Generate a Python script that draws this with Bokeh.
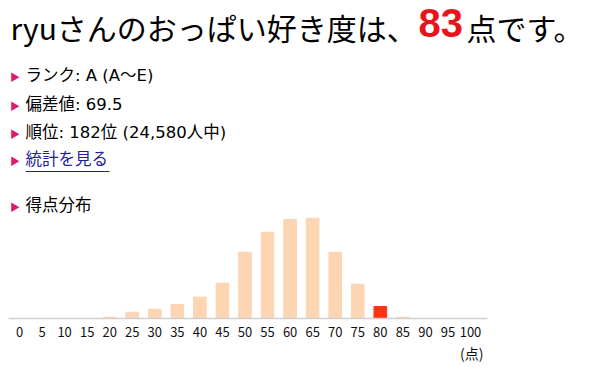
from bokeh.plotting import figure
from bokeh.models import Label, BoxAnnotation, ColumnDataSource, FixedTicker, Title
from bokeh.embed import file_html
from bokeh.resources import INLINE

# ---- data ----
user = "ryu"
score = "83"
rank_text = "ランク: A (A〜E)"
deviation_text = "偏差値: 69.5"
position_text = "順位: 182位 (24,580人中)"
link_text = "統計を見る"
section_text = "得点分布"
unit_text = "(点)"

bins = [0, 5, 10, 15, 20, 25, 30, 35, 40, 45, 50,
        55, 60, 65, 70, 75, 80, 85, 90, 95, 100]
counts = [0, 0, 0, 0, 58, 280, 413, 622, 946, 1568, 2945,
          3834, 4398, 4456, 2945, 1524, 533, 58, 0, 0, 0]
highlight_bin = 80
tick_labels = ["0", "5", "10", "15", "20", "25", "30", "35", "40", "45", "50",
               "55", "60", "65", "70", "75", "80", "85", "90", "95", "100"]

BAR = "#fdd5b2"
HIGHLIGHT = "#ff3311"
colors = [HIGHLIGHT if b == highlight_bin else BAR for b in bins]

FONT = "Noto Sans CJK JP"
LIST_FONT = "DejaVu Sans, Noto Sans CJK JP"
W = 585
H = 370
BASE = 318          # page y of the baseline (frame bottom)

p = figure(width=W, height=H, x_range=(-4.213, 125.5), y_range=(0, 14129),
           output_backend="svg", toolbar_location=None, y_axis_location=None,
           min_border_left=0, min_border_right=0, min_border_top=0,
           min_border_bottom=H - BASE)
p.outline_line_color = None
p.xgrid.visible = False
p.ygrid.visible = False

src = ColumnDataSource(dict(x=bins, top=counts, color=colors))
p.vbar(x="x", top="top", width=2.8, bottom=0, color="color", source=src)

ax = p.xaxis[0]
ax.bounds = (-2.44, 103.77)
ax.ticker = FixedTicker(ticks=bins)
ax.major_label_overrides = {b: t for b, t in zip(bins, tick_labels)}
ax.axis_line_color = "#d0d0d0"
ax.axis_line_width = 1.5
ax.major_tick_line_color = None
ax.minor_tick_line_color = None
ax.major_label_standoff = 2
ax.major_label_text_font = FONT
ax.major_label_text_font_size = "13px"
ax.major_label_text_color = "#111111"

p.add_layout(Title(text=unit_text, align="right", offset=W - 483, standoff=2,
                   text_font=FONT, text_font_size="14px", text_font_style="normal",
                   text_color="#111111"), "below")


def label(text, x, y, size, color="black", bold=False, align="left", font=FONT):
    p.add_layout(Label(x=x, y=BASE - y, x_units="screen", y_units="screen", text=text,
                       text_font=font, text_font_size=size, text_color=color,
                       text_font_style="bold" if bold else "normal",
                       text_align=align, text_baseline="middle"))


# headline
label(user + "さんのおっぱい好き度は、", 10, 26, "30px")
label(score, 418, 22.5, "40px", color="#e8141c", bold=True, font="Liberation Sans")
label("点です。", 466, 26, "30px")

# list
PINK = "#dd1a6e"
LINK = "#222299"
rows = [(rank_text, 75, "black"), (deviation_text, 104, "black"),
        (position_text, 132, "black"), (link_text, 159, LINK),
        (section_text, 205, "black")]
for txt, y, col in rows:
    label("▶", 14.5, y + 1, "10px", color=PINK, align="center")
    label(txt, 25, y, "16.5px", color=col, font=LIST_FONT)

p.add_layout(BoxAnnotation(left=25, right=109, top=BASE - 170.5, bottom=BASE - 171.5,
                           left_units="screen", right_units="screen",
                           top_units="screen", bottom_units="screen",
                           fill_color=LINK, fill_alpha=1, line_color=None))

open("out.html", "w").write(file_html(p, INLINE))
